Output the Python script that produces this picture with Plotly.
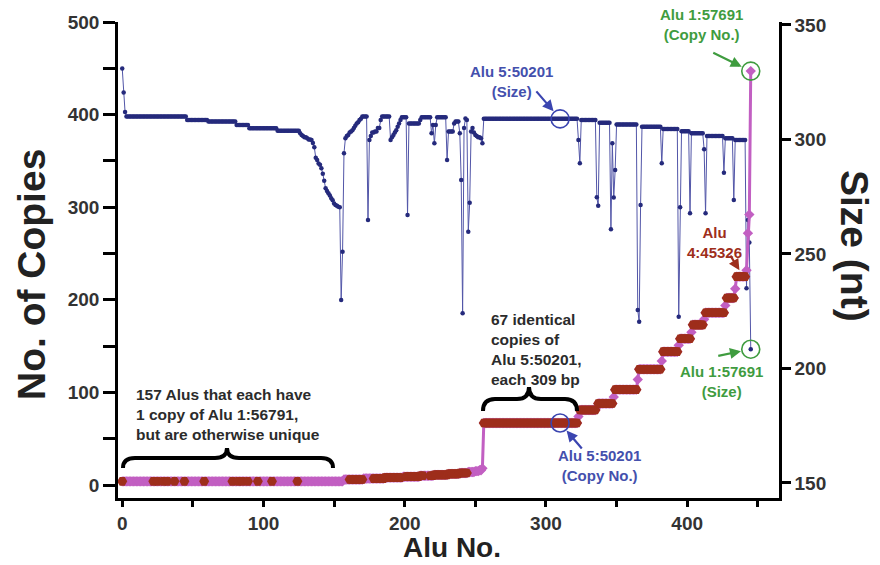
import plotly.graph_objects as go

# ---------------- data ----------------
# Size (nt) per Alu, run-length encoded as (value, count)
SIZE_RUNS = [
    (331, 1), (320.5, 1), (312, 1), (310, 43), (308.5, 15), (307.8, 20), (306.3, 9),
    (304.9, 20), (303.8, 16),
    (302.7, 1), (302, 1), (301.5, 1), (301, 2), (300.5, 1), (300, 2), (299.8, 1),
    (298.5, 1), (296.6, 1), (292, 1), (291, 1), (289.5, 1), (288.9, 1), (287.4, 1),
    (285, 1), (282, 1), (278.7, 1), (277.5, 1), (276.5, 1), (275.5, 1), (274.3, 1),
    (273.5, 1), (272, 1), (271.4, 1), (271, 1), (270.6, 1), (270.4, 1),
    (229.9, 1), (251, 1), (294, 1), (300.5, 1), (301.5, 1), (302, 1), (303, 1),
    (303.5, 1), (304, 1), (305, 1), (306, 1), (307, 1), (307.5, 1), (308.5, 1), (309, 1),
    (310, 4), (264.8, 1), (299.8, 1), (301.5, 1), (303, 2), (303.5, 2), (305, 2),
    (308.5, 1), (310, 6), (299.8, 1), (301, 1), (302, 1), (303, 1), (304, 1),
    (305.6, 1), (307, 1), (308.5, 1), (309.7, 4), (267, 1), (307, 8), (308.5, 1),
    (309.7, 7), (302.7, 1), (306.3, 1), (298.3, 1), (306.3, 1), (309.7, 7), (291, 1),
    (303.5, 4), (307, 1), (307.8, 3), (302.7, 1), (282.3, 1), (224.1, 1), (305, 1),
    (309.2, 1), (308.5, 1), (259.7, 1), (272.4, 1), (303.5, 1), (305, 1), (303, 1),
    (302, 1), (301.5, 1), (301, 2), (300.5, 1), (298.3, 1),
    (309, 67),
    (299.8, 1), (289.6, 1), (308.5, 11), (274.8, 1), (271, 1), (307.3, 8), (260.8, 1),
    (298.3, 1), (274.6, 1), (286.7, 1), (306.5, 15), (225.5, 1), (220.4, 1),
    (271.4, 1), (305.6, 14), (289.6, 1), (304.6, 11), (222.6, 1), (270.4, 1),
    (303.6, 6), (267.8, 1), (302.7, 9), (295.7, 1), (267.8, 1), (301.5, 12),
    (285.5, 1), (300.5, 6), (273.6, 1), (299.8, 8), (235, 1), (264.8, 1), (255, 1),
    (208.4, 1),
]

# No. of copies per Alu, run-length encoded as (value, count)
COPY_RUNS = [
    (4, 157),
    (6, 14), (7, 15), (8, 13), (9, 12), (10, 10), (11, 10), (12, 8), (13, 6),
    (14, 5), (15, 3), (16, 2), (18, 1),
    (67, 67),
    (74, 1), (81, 12), (84, 1), (88, 11), (95, 1), (103, 16), (114, 1), (125, 16),
    (134, 1), (144, 11), (151, 1), (158, 8), (165, 1), (173, 8), (179, 1), (186, 14),
    (194, 1), (202, 6), (212, 1), (225, 7), (232, 1), (272, 1), (292, 1), (447, 1),
]

# Alus highlighted with brown markers
BROWN_SINGLE = [0, 22, 25, 29, 32, 37, 44, 58, 78, 82, 85, 89, 96, 106, 124]
BROWN_RANGES = [(161, 170), (178, 197), (201, 213), (218, 244), (256, 322),
                (324, 335), (337, 347), (349, 364), (366, 381), (383, 393),
                (395, 402), (404, 411), (413, 426), (428, 433), (435, 441)]

X_TICKS = list(range(0, 451, 50))
LEFT_TICKS = list(range(0, 501, 50))
RIGHT_TICKS = list(range(150, 351, 50))


def expand(runs):
    out = []
    for v, n in runs:
        out += [v] * n
    return out


size = expand(SIZE_RUNS)
copies = expand(COPY_RUNS)
assert len(size) == len(copies), (len(size), len(copies))
alu = list(range(len(size)))

brown_idx = list(BROWN_SINGLE)
for a, b in BROWN_RANGES:
    brown_idx += list(range(a, b + 1))
brown_idx = sorted(set(i for i in brown_idx if i < len(alu)))

FONT = "Liberation Sans, Arial, sans-serif"
BLUE_TXT = "#4450ad"
GREEN = "#3f9c3f"
BROWN = "#9e2e1b"
MAGENTA = "#c25fc2"
DARK = "#2b2b2b"

fig = go.Figure()
fig.add_trace(go.Scatter(
    x=alu, y=size, yaxis="y", mode="lines+markers",
    line=dict(color="#5256a8", width=1),
    marker=dict(color="#252a7c", size=4.5),
    hoverinfo="x+y", showlegend=False))
fig.add_trace(go.Scatter(
    x=alu, y=copies, yaxis="y2", mode="lines+markers",
    line=dict(color=MAGENTA, width=3),
    marker=dict(color=MAGENTA, size=8, symbol="diamond"),
    showlegend=False))
fig.add_trace(go.Scatter(
    x=brown_idx, y=[copies[i] for i in brown_idx], yaxis="y2", mode="markers",
    marker=dict(color=BROWN, size=10, symbol="hexagon2", line=dict(width=0)),
    showlegend=False))

# plot-area geometry (pixels) for placing decorations
L, R, T, B = 118, 101, 22, 67
W, H = 880, 565
PW, PH = W - L - R, H - T - B


def px(x):
    return (x - L) / PW


def py(y):
    return 1 - (y - T) / PH


def brace(x0, x1, xc, yb, ym, yt, r=12):
    pts = (f"M {px(x0)},{py(yb)} Q {px(x0)},{py(ym)} {px(x0 + r)},{py(ym)} "
           f"L {px(xc - r)},{py(ym)} Q {px(xc)},{py(ym)} {px(xc)},{py(yt)} "
           f"Q {px(xc)},{py(ym)} {px(xc + r)},{py(ym)} "
           f"L {px(x1 - r)},{py(ym)} Q {px(x1)},{py(ym)} {px(x1)},{py(yb)}")
    return dict(type="path", path=pts, xref="paper", yref="paper",
                line=dict(color="black", width=4))


def circle(x, y, yref, color):
    return dict(type="circle", xref="x", yref=yref, xsizemode="pixel",
                ysizemode="pixel", xanchor=x, yanchor=y, x0=-9, x1=9, y0=-9, y1=9,
                line=dict(color=color, width=1.6))


shapes = [
    brace(123, 333, 227, 468, 458, 448),
    brace(483, 577, 529, 411, 399, 387),
    circle(310, 309, "y", "#3b45b0"),
    circle(310, 67, "y2", "#3b45b0"),
    circle(445, 447, "y2", GREEN),
    circle(445, 208.4, "y", GREEN),
]


def text(t, x, y, color, size=15, align="center", xanchor="center"):
    return dict(text=t, x=px(x), y=py(y), xref="paper", yref="paper",
                showarrow=False, align=align, xanchor=xanchor, yanchor="middle",
                font=dict(family=FONT, size=size, color=color, weight="bold"))


def arrow(x, y, yref, ax, ay, color, standoff=10):
    return dict(text="", x=x, y=y, xref="x", yref=yref, ax=ax, ay=ay,
                showarrow=True, arrowhead=2, arrowsize=1, arrowwidth=2.2,
                arrowcolor=color, standoff=standoff)


annotations = [
    text("Alu 5:50201<br>(Size)", 511, 81, BLUE_TXT),
    text("Alu 1:57691<br>(Copy No.)", 701, 25, GREEN),
    text("Alu<br>4:45326", 714, 242, BROWN),
    text("Alu 1:57691<br>(Size)", 721, 381, GREEN),
    text("Alu 5:50201<br>(Copy No.)", 599, 465, BLUE_TXT),
    text("67 identical<br>copies of<br>Alu 5:50201,<br>each 309 bp", 489, 349, DARK,
         size=15.5, align="left", xanchor="left"),
    text("157 Alus that each have<br>1 copy of Alu 1:56791,<br>but are otherwise unique",
         134, 414, DARK, size=15.5, align="left", xanchor="left"),
    arrow(310, 309, "y", -25, -29, "#3b45b0"),
    arrow(445, 447, "y2", -39, -19, GREEN),
    arrow(437, 232, "y2", -10, -16, BROWN, standoff=0),
    arrow(445, 208.4, "y", -34, 7, GREEN),
    arrow(310, 67, "y2", 23, 27, "#3b45b0"),
    # axis titles
    dict(text="No. of Copies", x=px(31), y=py(275), xref="paper", yref="paper",
         showarrow=False, textangle=-90, xanchor="center", yanchor="middle",
         font=dict(family=FONT, size=39, color="#222", weight="bold")),
    dict(text="Size (nt)", x=px(855), y=py(246), xref="paper", yref="paper",
         showarrow=False, textangle=90, xanchor="center", yanchor="middle",
         font=dict(family=FONT, size=39, color="#222", weight="bold")),
    dict(text="Alu No.", x=px(452), y=py(565), xref="paper", yref="paper",
         showarrow=False, xanchor="center", yanchor="bottom",
         font=dict(family=FONT, size=28, color="#222", weight="bold")),
]

tickfont = dict(family=FONT, size=19, color="#333", weight="bold")

fig.update_layout(
    width=W, height=H,
    margin=dict(l=L, r=R, t=T, b=B, pad=0),
    paper_bgcolor="white", plot_bgcolor="white",
    showlegend=False,
    xaxis=dict(range=[-3, 465], showgrid=False, zeroline=False, showline=True,
               linecolor="black", linewidth=2.5, ticks="outside", ticklen=6,
               tickwidth=2.5, tickcolor="black", tickvals=X_TICKS,
               ticktext=[str(v) if v % 100 == 0 else "" for v in X_TICKS],
               tickfont=tickfont),
    yaxis=dict(range=[143.4, 351.3], side="right", showgrid=False, zeroline=False,
               showline=True, linecolor="black", linewidth=2.5, ticks="outside",
               ticklen=9, tickwidth=2.5, tickcolor="black", tickvals=RIGHT_TICKS,
               ticktext=[str(v) for v in RIGHT_TICKS], tickfont=tickfont),
    yaxis2=dict(range=[-14, 500], side="left", overlaying="y", showgrid=False,
                zeroline=False, showline=True, linecolor="black", linewidth=2.5,
                ticks="outside", ticklen=12, tickwidth=2.5, tickcolor="black",
                tickvals=LEFT_TICKS,
                ticktext=[str(v) if v % 100 == 0 else "" for v in LEFT_TICKS],
                tickfont=tickfont),
    shapes=shapes,
    annotations=annotations,
)

fig.write_html("out.html")
